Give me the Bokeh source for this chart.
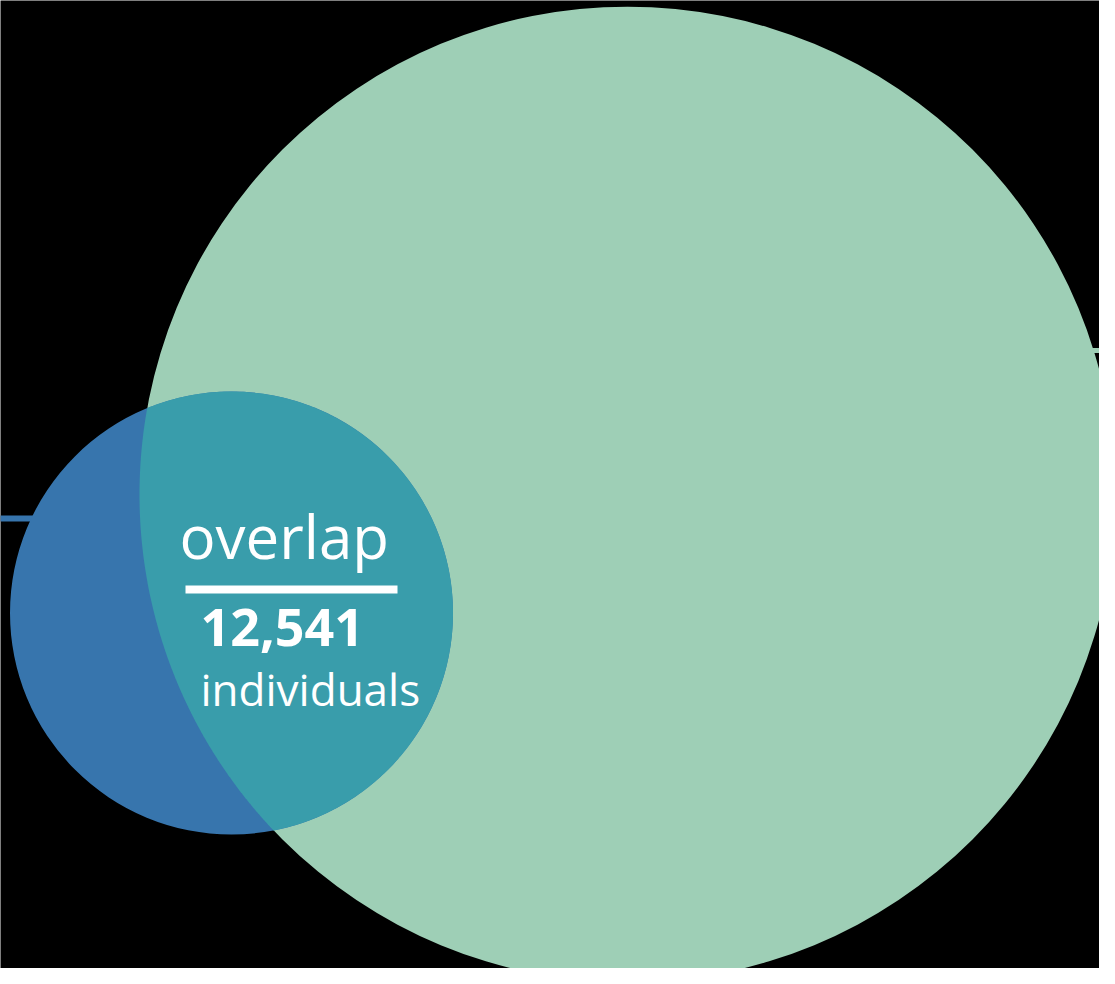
import numpy as np
from bokeh.plotting import figure
from bokeh.models import Range1d
from bokeh.core.properties import value
from bokeh.embed import file_html
from bokeh.resources import INLINE

# ---- data (in picture units) ----
set_names = ["large group", "small group"]
circle_x = [627.0, 231.0]
circle_y = [494.0, 612.5]
circle_r = [488.0, 221.5]
circle_colors = ["#9ecfb6", "#3775ad"]
overlap_color = "#399dab"
connector_y = [350.0, 518.0]
connector_x_end = [1125.0, -10.0]

overlap_label = "overlap"
overlap_count = 12541
overlap_unit = "individuals"

# ---- figure ----
p = figure(width=1099, height=968,
           x_range=Range1d(0, 1099), y_range=Range1d(968, 0),
           output_backend="svg", toolbar_location=None,
           min_border=0, background_fill_color="black",
           border_fill_color="black", outline_line_color=None)
p.axis.visible = False
p.grid.visible = False

# connector lines (drawn first, hidden under circles)
for i in range(2):
    p.line(x=[circle_x[i], connector_x_end[i]], y=[connector_y[i], connector_y[i]],
           line_color=circle_colors[i], line_width=6 if i == 1 else 5)

# circles
p.circle(x=circle_x, y=circle_y, radius=circle_r, fill_color=circle_colors,
         line_color=None)

# overlap lens
x1, y1, r1 = circle_x[0], circle_y[0], circle_r[0]
x2, y2, r2 = circle_x[1], circle_y[1], circle_r[1]
d = np.hypot(x2 - x1, y2 - y1)
a = (r1**2 - r2**2 + d**2) / (2 * d)
h = np.sqrt(r1**2 - a**2)
phi1 = np.arctan2(y2 - y1, x2 - x1)
al1 = np.arctan2(h, a)
t1 = np.linspace(phi1 - al1, phi1 + al1, 300)
phi2 = np.arctan2(y1 - y2, x1 - x2)
al2 = np.arctan2(h, d - a)
t2 = np.linspace(phi2 - al2, phi2 + al2, 300)
lx = np.concatenate([x1 + r1 * np.cos(t1), x2 + r2 * np.cos(t2)])
ly = np.concatenate([y1 + r1 * np.sin(t1), y2 + r2 * np.sin(t2)])
p.patch(x=lx, y=ly, fill_color=overlap_color, line_color=None)

# labels
p.text(x=[179], y=[535], text=[overlap_label], text_font=value("Open Sans"),
       text_font_size="60px", text_color="white", text_align="left",
       text_baseline="alphabetic")
p.quad(left=[185], right=[397], top=[585], bottom=[593], fill_color="white",
       line_color=None)
p.text(x=[200], y=[627], text=[f"{overlap_count:,}"], text_font=value("Open Sans"),
       text_font_style="bold", text_font_size="52px", text_color="white",
       text_align="left", text_baseline="alphabetic")
p.text(x=[200], y=[688], text=[overlap_unit], text_font=value("Open Sans"),
       text_font_size="44px", text_color="white", text_align="left",
       text_baseline="alphabetic")

open("out.html", "w").write(file_html(p, INLINE))
